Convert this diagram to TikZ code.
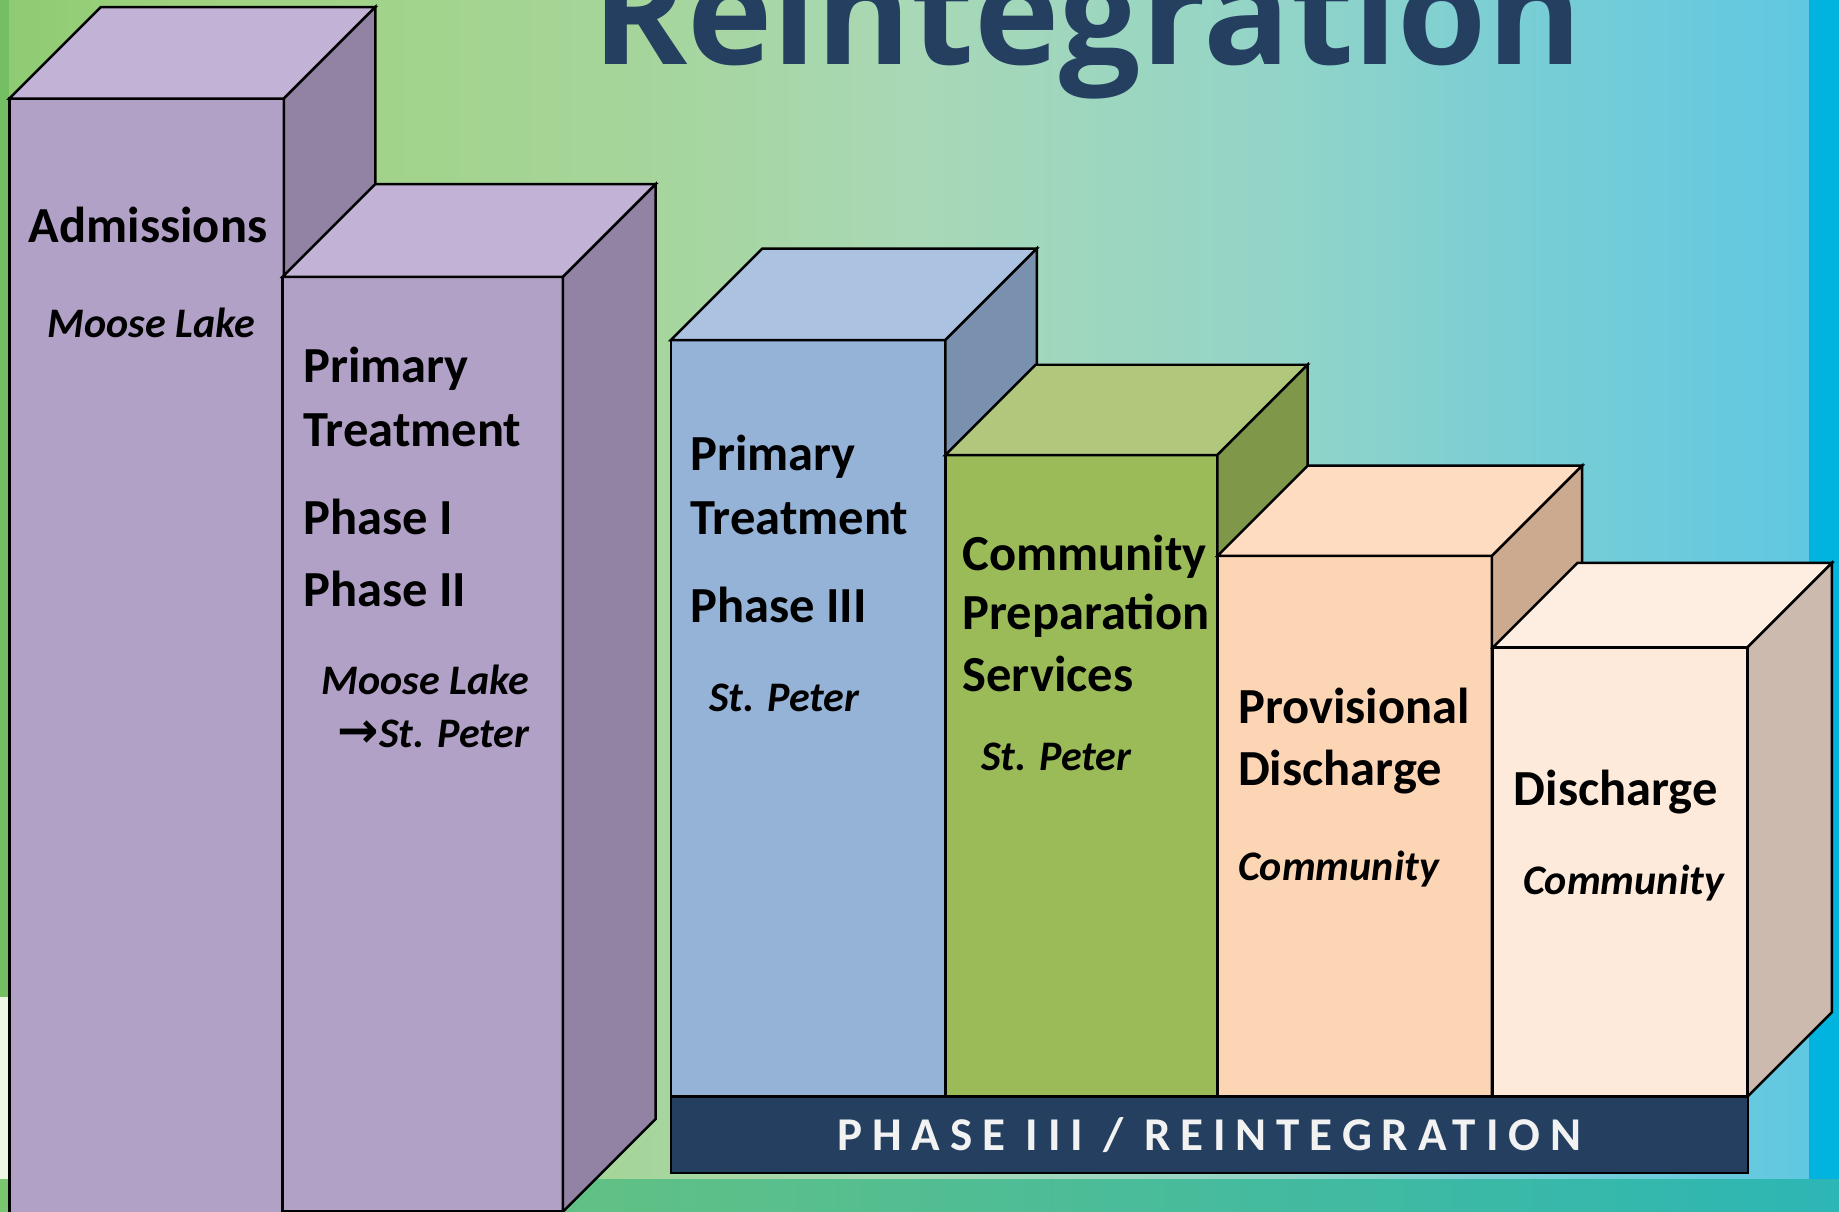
\documentclass[tikz,border=0pt]{standalone}
\usepackage{fontspec}
\setmainfont{Carlito}
\newfontfamily\titlefont{Open Sans}
\newfontfamily\arrowfont{DejaVu Sans}
\usetikzlibrary{shapes,arrows}

\definecolor{navy}{HTML}{243F60}
\definecolor{lilacfront}{HTML}{B2A1C7}
\definecolor{lilactop}{HTML}{C2B2D6}
\definecolor{lilacside}{HTML}{9282A3}
\definecolor{bluefront}{HTML}{95B3D7}
\definecolor{bluetop}{HTML}{ABC2E0}
\definecolor{blueside}{HTML}{7A90AF}
\definecolor{greenfront}{HTML}{9BBB59}
\definecolor{greentop}{HTML}{B1C87C}
\definecolor{greenside}{HTML}{7E9749}
\definecolor{peachfront}{HTML}{FCD5B5}
\definecolor{peachtop}{HTML}{FDDCC1}
\definecolor{peachside}{HTML}{CCAA8F}
\definecolor{creamfront}{HTML}{FDEADA}
\definecolor{creamtop}{HTML}{FEEEE2}
\definecolor{creamside}{HTML}{CCBAAE}
\definecolor{bgA}{HTML}{8DCB73}
\definecolor{bgB}{HTML}{9FD27E}
\definecolor{bgC}{HTML}{A6D59A}
\definecolor{bgD}{HTML}{A8D8B6}
\definecolor{bgE}{HTML}{92D4C8}
\definecolor{bgF}{HTML}{77CDD6}
\definecolor{bgG}{HTML}{5EC7E3}
\definecolor{edgegreen}{HTML}{74BF63}
\definecolor{edgepale}{HTML}{EEF6E6}
\definecolor{edgeblue}{HTML}{00B4DF}
\definecolor{footA}{HTML}{7AC56F}
\definecolor{footB}{HTML}{2CB6B4}

\pgfdeclarehorizontalshading{backdrop}{100bp}{color(0bp)=(bgA); color(25bp)=(bgA);
  color(30bp)=(bgB); color(42bp)=(bgC); color(50bp)=(bgD); color(60bp)=(bgE);
  color(67bp)=(bgF); color(75bp)=(bgG); color(100bp)=(bgG)}

\tikzstyle{boxline} = [draw=black, line width=0.6pt]
\tikzstyle{title} = [anchor=base, inner sep=0pt, text=navy, font=\titlefont\fontsize{35}{38}\selectfont\bfseries]
\tikzstyle{head} = [anchor=base west, inner sep=0pt, font=\fontsize{12.25}{15}\selectfont\bfseries]
\tikzstyle{place} = [anchor=base west, inner sep=0pt, font=\fontsize{10.2}{12}\selectfont\bfseries\itshape]
\tikzstyle{banner} = [rectangle, fill=navy, draw=black, line width=0.5pt, text=white!95!black, minimum width=9.18cm, minimum height=0.65cm, inner sep=0pt, font=\fontsize{11.4}{13}\selectfont\bfseries\addfontfeatures{LetterSpace=21}]

% left x, right x, top y, bottom y, depth, front, top, side
\newcommand{\stagebox}[8]{%
  \filldraw[fill=#6, boxline] (#1,#3) rectangle (#2,#4);
  \filldraw[fill=#7, boxline] (#1,#3) -- (#1+#5,#3-#5) -- (#2+#5,#3-#5) -- (#2,#3) -- cycle;
  \filldraw[fill=#8, boxline] (#2,#3) -- (#2+#5,#3-#5) -- (#2+#5,#4-#5) -- (#2,#4) -- cycle;
}

\begin{document}
\begin{tikzpicture}[x=0.01cm, y=-0.01cm]
	\useasboundingbox (0,0) rectangle (1568,1033);
	\clip (0,0) rectangle (1568,1033);
	
	% backdrop
	\shade[shading=backdrop] (0,0) rectangle (1568,1033);
	\fill[edgegreen] (0,0) rectangle (8,1033);
	\fill[edgepale] (0,850) rectangle (8,1033);
	\fill[edgeblue] (1542,0) rectangle (1568,1033);
	\shade[left color=footA, right color=footB] (0,1006) rectangle (1568,1033);
	
	\node[title](title) at (927,55) {Reintegration};
	
	% the stages
	\stagebox{8}{242}{84}{1045}{78}{lilacfront}{lilactop}{lilacside}
	\stagebox{241}{480}{236}{1033}{79}{lilacfront}{lilactop}{lilacside}
	\stagebox{572}{806}{290}{935}{78}{bluefront}{bluetop}{blueside}
	\stagebox{806}{1038}{388}{935}{77}{greenfront}{greentop}{greenside}
	\stagebox{1038}{1272}{474}{935}{77}{peachfront}{peachtop}{peachside}
	\stagebox{1273}{1490}{552}{935}{72}{creamfront}{creamtop}{creamside}
	
	\node[banner](phase) at (1031,967.5) {PHASE III / REINTEGRATION};
	
	\node[head](adm) at (24,207) {Admissions};
	\node[place](admloc) at (40,288) {Moose Lake};
	
	\node[head](pt1) at (258,326) {Primary};
	\node[head](pt2) at (258,381) {Treatment};
	\node[head](ph1) at (258,456) {Phase I};
	\node[head](ph2) at (258,517) {Phase II};
	\node[place, anchor=base east](ptloc1) at (452,592) {Moose Lake};
	\node[place, anchor=base east](ptloc2) at (452,637) {{\arrowfont\upshape\bfseries\fontsize{12}{12}\selectfont →}St. Peter};
	
	\node[head](pt3) at (588,401) {Primary};
	\node[head](pt4) at (588,456) {Treatment};
	\node[head](ph3) at (588,531) {Phase III};
	\node[place](ph3loc) at (604,607) {St. Peter};
	
	\node[head](cps1) at (820,486) {Community};
	\node[head](cps2) at (820,537) {Preparation};
	\node[head](cps3) at (820,590) {Services};
	\node[place](cpsloc) at (836,657) {St. Peter};
	
	\node[head](prov1) at (1055,617) {Provisional};
	\node[head](prov2) at (1055,670) {Discharge};
	\node[place](provloc) at (1055,751) {Community};
	
	\node[head](dis) at (1290,687) {Discharge};
	\node[place](disloc) at (1298,763) {Community};
\end{tikzpicture}
\end{document}
